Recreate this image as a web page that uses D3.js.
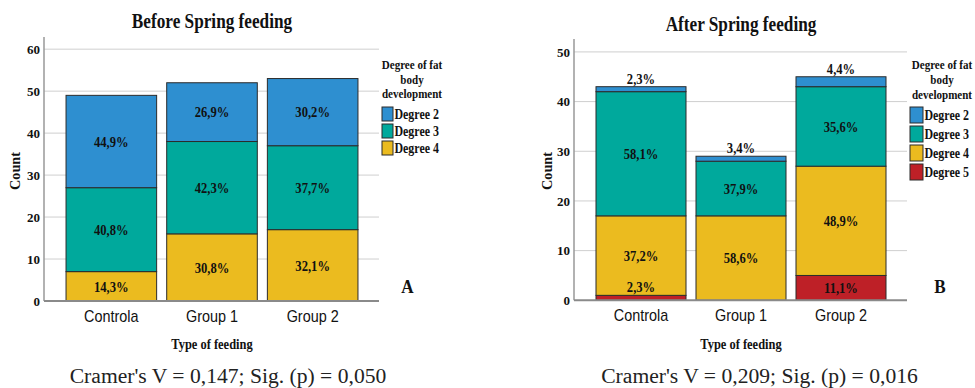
<!DOCTYPE html>
<html>
<head>
<meta charset="utf-8">
<script src="https://cdn.jsdelivr.net/npm/d3@7"></script>
<style>
  html, body { margin: 0; padding: 0; background: #fff; }
  svg { display: block; }
</style>
</head>
<body>
<svg id="chart" width="975" height="388"></svg>
<script>
// ---------- DATA ----------
const categories = ["Controla", "Group 1", "Group 2"];

// Before Spring feeding (counts)
const beforeDegree2 = [22, 14, 16];
const beforeDegree3 = [20, 22, 20];
const beforeDegree4 = [7, 16, 17];

// After Spring feeding (counts)
const afterDegree2 = [1, 1, 2];
const afterDegree3 = [25, 11, 16];
const afterDegree4 = [16, 17, 22];
const afterDegree5 = [1, 0, 5];

const beforeTicks = [0, 10, 20, 30, 40, 50, 60];
const afterTicks = [0, 10, 20, 30, 40, 50];

const degreeNames = ["Degree 2", "Degree 3", "Degree 4", "Degree 5"];
const beforeStat = "Cramer's V = 0,147; Sig. (p) = 0,050";
const afterStat = "Cramer's V = 0,209; Sig. (p) = 0,016";

// ---------- STYLE ----------
const colors = { "Degree 2": "#2e8fd0", "Degree 3": "#00a99c", "Degree 4": "#ebbb1f", "Degree 5": "#be2027" };
const SERIF = "'Liberation Serif','Times New Roman',serif";
const SANS = "'Liberation Sans',Arial,sans-serif";

const svg = d3.select("#chart");

function txt(g, x, y, s, o) {
  return g.append("text")
    .attr("transform", `translate(${x},${y})${o.rot ? " rotate(" + o.rot + ")" : ""} scale(${o.sx || 1},1)`)
    .attr("text-anchor", o.anchor || "middle")
    .attr("dy", o.dy || null)
    .style("font-family", o.family || SERIF)
    .style("font-weight", o.weight || "bold")
    .style("font-size", o.size + "px")
    .style("fill", o.fill || "#111")
    .text(s);
}

function drawChart(cfg) {
  const g = svg.append("g");
  const keys = cfg.keys; // bottom to top
  const rows = categories.map((c, i) => {
    const r = { cat: c };
    keys.forEach(k => r[k] = cfg.series[k][i]);
    r.total = keys.reduce((a, k) => a + r[k], 0);
    return r;
  });

  const x = d3.scaleBand().domain(categories).range(cfg.bandRange).paddingInner(0.1).paddingOuter(0.05);
  const y = d3.scaleLinear().domain([0, cfg.yMax]).range([cfg.y0, cfg.yTop]);

  // gridlines
  g.append("g").selectAll("line").data(cfg.ticks.filter(t => t > 0)).join("line")
    .attr("x1", cfg.xLeft).attr("x2", cfg.xRight)
    .attr("y1", d => y(d)).attr("y2", d => y(d))
    .attr("stroke", "#cfcfcf").attr("stroke-width", 1);

  // y axis
  const yAxis = d3.axisLeft(y).tickValues(cfg.ticks).tickSize(0).tickPadding(4);
  const ya = g.append("g").attr("transform", `translate(${cfg.xLeft},0)`).call(yAxis);
  ya.select(".domain").remove();
  ya.selectAll("text")
    .style("font-family", SERIF).style("font-weight", "bold").style("font-size", "13px").style("fill", "#111");
  g.append("line").attr("x1", cfg.xLeft).attr("x2", cfg.xLeft)
    .attr("y1", y(0)).attr("y2", cfg.yTop).attr("stroke", "#999").attr("stroke-width", 1.5);

  // stacked bars
  const stack = d3.stack().keys(keys)(rows);
  const layers = g.append("g").selectAll("g").data(stack).join("g")
    .attr("fill", d => colors[d.key]);
  layers.selectAll("rect").data(d => d.map(v => ({ v, key: d.key })).filter(o => o.v[1] - o.v[0] > 0)).join("rect")
    .attr("x", d => x(d.v.data.cat))
    .attr("width", x.bandwidth())
    .attr("y", d => y(d.v[1]))
    .attr("height", d => y(d.v[0]) - y(d.v[1]))
    .attr("stroke", "#2b2b2b").attr("stroke-width", 1);

  // labels
  const lab = g.append("g");
  stack.forEach(layer => {
    layer.forEach(v => {
      const val = v[1] - v[0];
      if (val <= 0) return;
      const pct = (val / v.data.total * 100).toFixed(1).replace(".", ",") + "%";
      const cx = x(v.data.cat) + x.bandwidth() / 2;
      const h = y(v[0]) - y(v[1]);
      let ly, dy;
      if (h < 14) { ly = y(v[1]) - 3; dy = null; }
      else { ly = (y(v[0]) + y(v[1])) / 2; dy = "0.35em"; }
      txt(lab, cx, ly, pct, { size: 15, sx: 0.84, dy });
    });
  });

  // x axis
  g.append("line").attr("x1", cfg.xLeft).attr("x2", cfg.xRight)
    .attr("y1", y(0)).attr("y2", y(0)).attr("stroke", "#8a8a8a").attr("stroke-width", 2);
  categories.forEach(c => {
    txt(g, x(c) + x.bandwidth() / 2, cfg.y0 + 21, c, { size: 16, sx: 0.9, family: SANS, weight: "normal", fill: "#111" });
  });

  // titles
  txt(g, cfg.titleX, cfg.titleY, cfg.title, { size: 21, sx: 0.82 });
  txt(g, cfg.titleX, 349, "Type of feeding", { size: 15, sx: 0.83 });
  txt(g, cfg.countX, 171, "Count", { size: 15, sx: 0.95, rot: -90, dy: "0.35em" });
  txt(g, cfg.letterX, 293, cfg.letter, { size: 18, sx: 0.95 });
  txt(g, cfg.statX, 383, cfg.stat, { size: 21.6, weight: "normal", fill: "#222" });

  // legend
  const L = cfg.legend;
  ["Degree of fat", "body", "development"].forEach((s, i) => {
    txt(g, L.titleX, L.titleY + i * L.titleStep, s, { size: 13, sx: 0.85 });
  });
  const legKeys = keys.slice().reverse();
  legKeys.forEach((k, i) => {
    const ry = L.rowY + i * L.rowStep;
    g.append("rect").attr("x", L.swX).attr("y", ry).attr("width", L.swW).attr("height", L.swH)
      .attr("fill", colors[k]).attr("stroke", "#2b2b2b").attr("stroke-width", 1);
    txt(g, L.swX + L.swW + 1.5, ry + L.swH / 2, k, { size: 14, sx: 0.85, anchor: "start", dy: "0.35em" });
  });
}

drawChart({
  keys: ["Degree 4", "Degree 3", "Degree 2"],
  series: { "Degree 2": beforeDegree2, "Degree 3": beforeDegree3, "Degree 4": beforeDegree4 },
  ticks: beforeTicks, yMax: 62.9, y0: 301, yTop: 37,
  xLeft: 44, xRight: 379, bandRange: [61, 363],
  title: "Before Spring feeding", titleX: 212, titleY: 28,
  countX: 15, letter: "A", letterX: 407.5, stat: beforeStat, statX: 228,
  legend: { titleX: 412, titleY: 69, titleStep: 14.5, swX: 382, swW: 11, swH: 14, rowY: 107, rowStep: 17 }
});

drawChart({
  keys: ["Degree 5", "Degree 4", "Degree 3", "Degree 2"],
  series: { "Degree 2": afterDegree2, "Degree 3": afterDegree3, "Degree 4": afterDegree4, "Degree 5": afterDegree5 },
  ticks: afterTicks, yMax: 52.6, y0: 300.3, yTop: 39,
  xLeft: 574, xRight: 907, bandRange: [591, 891],
  title: "After Spring feeding", titleX: 741, titleY: 31,
  countX: 547, letter: "B", letterX: 940, stat: afterStat, statX: 759.5,
  legend: { titleX: 942, titleY: 69, titleStep: 15, swX: 910, swW: 13, swH: 16, rowY: 107, rowStep: 19 }
});
</script>
</body>
</html>
